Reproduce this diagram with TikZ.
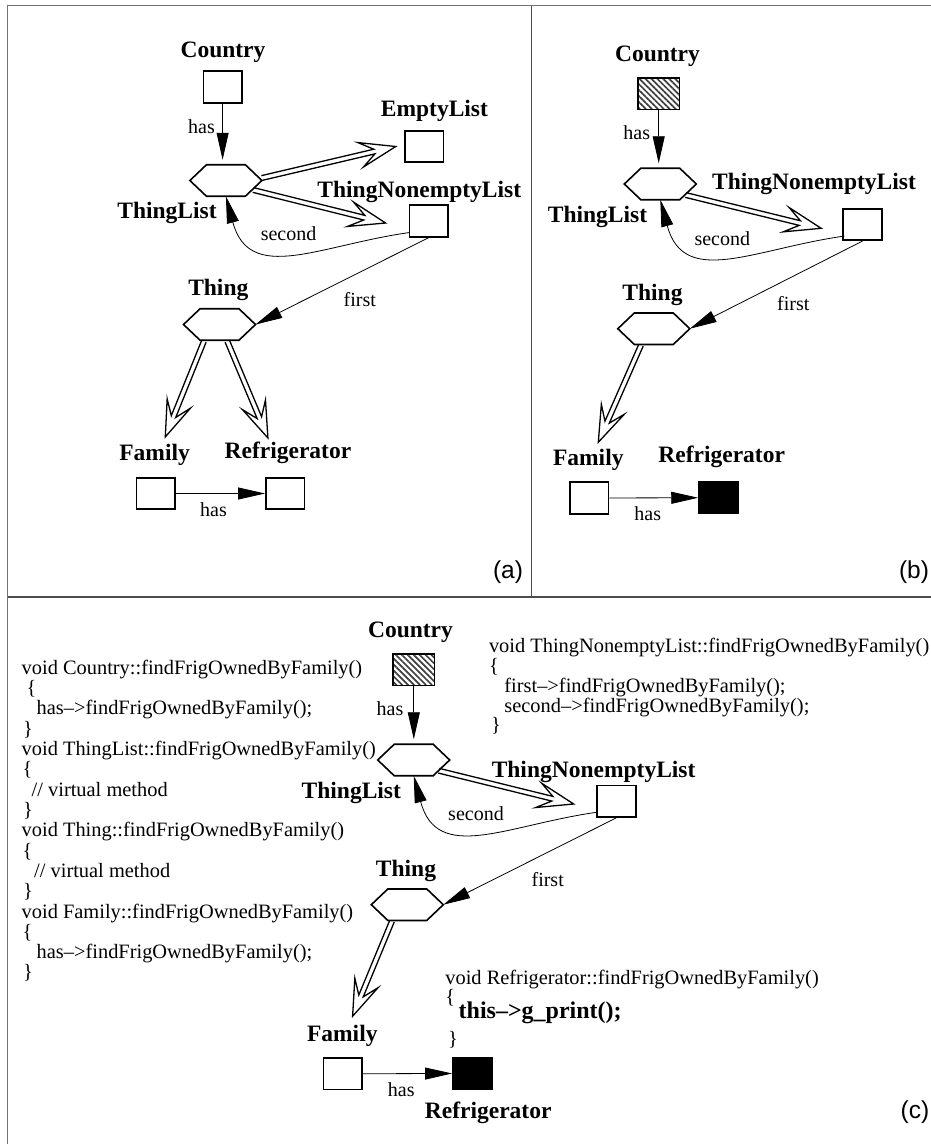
\documentclass[tikz,border=0pt]{standalone}
\usepackage{fontspec}
\setmainfont{Liberation Serif}
\setsansfont{Liberation Sans}
\usetikzlibrary{arrows.meta,calc,patterns.meta}

\tikzset{
  cls/.style={draw, line width=1.6pt, minimum width=38.5pt, minimum height=31.5pt, inner sep=0pt},
  hatchedcls/.style={cls, minimum width=41.5pt, pattern={Lines[angle=-45,distance=4.2pt,line width=1.7pt]}, pattern color=black!75},
  filledcls/.style={cls, minimum width=39.5pt, fill=black},
  hexcls/.style={minimum width=72pt, minimum height=31.5pt, inner sep=0pt, outer sep=0pt},
  hexline/.style={line width=1.6pt, line join=miter},
  lbl/.style={font=\fontsize{23.5}{28}\selectfont\bfseries, anchor=base, inner sep=0pt},
  rel/.style={font=\fontsize{20}{24}\selectfont, anchor=base, inner sep=0pt},
  code/.style={font=\fontsize{20.4}{20.4}\selectfont, anchor=base west, inner sep=0pt},
  tag/.style={font=\sffamily\fontsize{24.5}{28}\selectfont, anchor=base, inner sep=0pt},
  assoc/.style={line width=0.8pt, -{Triangle[length=27pt,width=12pt]}},
  isaline/.style={line width=1.3pt, line join=miter},
  curved/.style={out=188, in=-75, looseness=1.25}
}

% flat-topped hexagon on the box of a hexcls node
\newcommand\drawhex[1]{%
  \draw[hexline] (#1.west) -- ($(#1.north west)!.23!(#1.north east)$)
    -- ($(#1.north west)!.77!(#1.north east)$) -- (#1.east)
    -- ($(#1.south west)!.77!(#1.south east)$)
    -- ($(#1.south west)!.23!(#1.south east)$) -- cycle;}

% generalisation arrow: hollow double shaft with an open notched head
\newcommand\isa[2]{%
  \draw[isaline] let \p1=#1, \p2=#2,
      \n1={atan2((\y2)-(\y1),(\x2)-(\x1))} in
    ($(\p1)+(\n1+90:2.4pt)$)
    -- ($(\p2)+(\n1:-22pt)+(\n1+90:2.4pt)$)
    -- ($(\p2)+(\n1:-36pt)+(\n1+90:12.5pt)$)
    -- (\p2)
    -- ($(\p2)+(\n1:-36pt)+(\n1-90:12.5pt)$)
    -- ($(\p2)+(\n1:-22pt)+(\n1-90:2.4pt)$)
    -- ($(\p1)+(\n1-90:2.4pt)$);}

\begin{document}
\begin{tikzpicture}[x=1pt, y=1pt]
\useasboundingbox (0,0) rectangle (931,-1144);

% panel frame
\draw[line width=1.8pt, black!55] (931,-5.5) -- (7.5,-5.5) -- (7.5,-1144);
\draw[line width=1.2pt, black!70] (531.7,-5.5) -- (531.7,-597);
\draw[line width=1.5pt, black!70] (7.5,-597) -- (931,-597);

% ---------------- (a) ----------------
\node[cls] (aC) at (222.6,-87) {};
\node[lbl] (aCl) at (223,-57.3) {Country};
\node[hexcls] (aTL) at (225.9,-180.5) {};
\drawhex{aTL}
\node[lbl] (aTLl) at (167,-218.3) {ThingList};
\node[cls] (aE) at (424.4,-146.5) {};
\node[lbl] (aEl) at (434.4,-116.7) {EmptyList};
\node[cls] (aN) at (428.9,-221) {};
\node[lbl] (aNl) at (419.3,-197.3) {ThingNonemptyList};
\node[hexcls] (aT) at (219.5,-324.5) {};
\drawhex{aT}
\node[lbl] (aTl) at (218.3,-295) {Thing};
\node[cls] (aF) at (155.8,-493.5) {};
\node[lbl] (aFl) at (154.6,-460) {Family};
\node[cls] (aR) at (285.1,-493.5) {};
\node[lbl] (aRl) at (287.9,-458.3) {Refrigerator};

\draw[assoc, shorten >=5pt] (aC.south) -- (aC.south |- aTL.north);
\node[rel] (ah1) at (201.5,-133.3) {has};
\isa{($(aTL.east)+(0,2.5)$)}{($(aE.west)+(-8.6,0)$)}
\isa{($(aTL.east)+(-8.6,-9.5)$)}{($(aN.west)+(-23.3,-2)$)}
\draw[assoc] ($(aN.south west)+(0.5,5)$) to[curved] (aTL.south);
\node[rel] (as) at (288.6,-240.7) {second};
\draw[assoc] (aN.south) -- (aT.east);
\node[rel] (af) at (359.8,-306.7) {first};
\isa{($(aT.south)+(-15.6,-1)$)}{($(aF.north)+(9.5,40)$)}
\isa{($(aT.south)+(7.8,-1)$)}{($(aR.north)+(-17.2,39)$)}
\draw[assoc] (aF) -- (aR);
\node[rel] (ah2) at (213.5,-516.7) {has};
\node[tag] (atag) at (508,-578) {(a)};

% ---------------- (b) ----------------
\node[hatchedcls] (bC) at (658.7,-93.7) {};
\node[lbl] (bCl) at (657.5,-61.7) {Country};
\node[hexcls] (bTL) at (660.3,-184) {};
\drawhex{bTL}
\node[lbl] (bTLl) at (597.5,-222.7) {ThingList};
\node[cls] (bN) at (862.5,-224.5) {};
\node[lbl] (bNl) at (814,-189.3) {ThingNonemptyList};
\node[hexcls] (bT) at (653.8,-328.7) {};
\drawhex{bT}
\node[lbl] (bTl) at (652.5,-300) {Thing};
\node[cls] (bF) at (589.2,-498) {};
\node[lbl] (bFl) at (588.3,-465.7) {Family};
\node[filledcls] (bR) at (718.8,-497.7) {};
\node[lbl] (bRl) at (721.7,-462.7) {Refrigerator};

\draw[assoc, shorten >=5pt] (bC.south) -- (bC.south |- bTL.north);
\node[rel] (bh1) at (636.7,-139.3) {has};
\isa{($(bTL.east)+(-10.6,-11)$)}{($(bN.west)+(-21.3,-3.8)$)}
\draw[assoc] ($(bN.south west)+(2,5)$) to[curved] (bTL.south);
\node[rel] (bs) at (722.3,-245) {second};
\draw[assoc] (bN.south) -- (bT.east);
\node[rel] (bf) at (793.3,-310.7) {first};
\isa{($(bT.south)+(-12.8,-0.7)$)}{($(bF.north)+(9.1,39.2)$)}
\draw[assoc] (bF) -- (bR);
\node[rel] (bh2) at (647.7,-520) {has};
\node[tag] (btag) at (914,-578) {(b)};

% ---------------- (c) ----------------
\node[hatchedcls] (cC) at (413.8,-669.7) {};
\node[lbl] (cCl) at (410.5,-637.3) {Country};
\node[hexcls] (cTL) at (413.7,-760) {};
\drawhex{cTL}
\node[lbl] (cTLl) at (351.3,-798.3) {ThingList};
\node[cls] (cN) at (616.5,-801.2) {};
\node[lbl] (cNl) at (593.6,-777.3) {ThingNonemptyList};
\node[hexcls] (cT) at (407.3,-904.7) {};
\drawhex{cT}
\node[lbl] (cTl) at (406,-876) {Thing};
\node[cls] (cF) at (342.9,-1073.8) {};
\node[lbl] (cFl) at (342.3,-1041) {Family};
\node[filledcls] (cR) at (472.6,-1073.4) {};
\node[lbl] (cRl) at (488.2,-1118.3) {Refrigerator};

\draw[assoc, shorten >=5pt] (cC.south) -- (cC.south |- cTL.north);
\node[rel] (ch1) at (390,-715) {has};
\isa{($(cTL.east)+(-10.9,-10.7)$)}{($(cN.west)+(-22.8,-2.8)$)}
\draw[assoc] ($(cN.south west)+(1,5.6)$) to[curved] (cTL.south);
\node[rel] (cs) at (476,-820.7) {second};
\draw[assoc] (cN.south) -- (cT.east);
\node[rel] (cf) at (547.7,-886.7) {first};
\isa{($(cT.south)+(-15.3,-0.7)$)}{($(cF.north)+(9.7,41)$)}
\draw[assoc] (cF) -- (cR);
\node[rel] (ch2) at (401.2,-1096) {has};
\node[tag] (ctag) at (915,-1118) {(c)};

% method bodies
\node[code] (m1)  at (21.5,-674.3) {void Country::findFrigOwnedByFamily()};
\node[code] (m2)  at (26.5,-694.6) {\{};
\node[code] (m3)  at (36.5,-714.9) {has–>findFrigOwnedByFamily();};
\node[code] (m4)  at (23,-735.2)   {\}};
\node[code] (m5)  at (21.5,-755.5) {void ThingList::findFrigOwnedByFamily()};
\node[code] (m6)  at (22.5,-775.8) {\{};
\node[code] (m7)  at (31.5,-796.1) {// virtual method};
\node[code] (m8)  at (23,-816.4)   {\}};
\node[code] (m9)  at (21.5,-836.7) {void Thing::findFrigOwnedByFamily()};
\node[code] (m10) at (22.5,-857)   {\{};
\node[code] (m11) at (34,-877.3)   {// virtual method};
\node[code] (m12) at (23,-897.6)   {\}};
\node[code] (m13) at (21.5,-918)   {void Family::findFrigOwnedByFamily()};
\node[code] (m14) at (22.5,-938.3) {\{};
\node[code] (m15) at (36.5,-958.6) {has–>findFrigOwnedByFamily();};
\node[code] (m16) at (23,-978.9)   {\}};

\node[code] (n1) at (488.8,-652.3) {void ThingNonemptyList::findFrigOwnedByFamily()};
\node[code] (n2) at (489,-672)     {\{};
\node[code] (n3) at (504.2,-692)   {first–>findFrigOwnedByFamily();};
\node[code] (n4) at (504.2,-712)   {second–>findFrigOwnedByFamily();};
\node[code] (n5) at (491,-731.5)   {\}};

\node[code] (r1) at (445.2,-984)   {void Refrigerator::findFrigOwnedByFamily()};
\node[code] (r2) at (445.2,-1003.6) {\{};
\node[code, font=\fontsize{24}{24}\selectfont\bfseries] (r3) at (458.5,-1018.3) {this–>g\_print();};
\node[code] (r4) at (448,-1045.6)  {\}};
\end{tikzpicture}
\end{document}
